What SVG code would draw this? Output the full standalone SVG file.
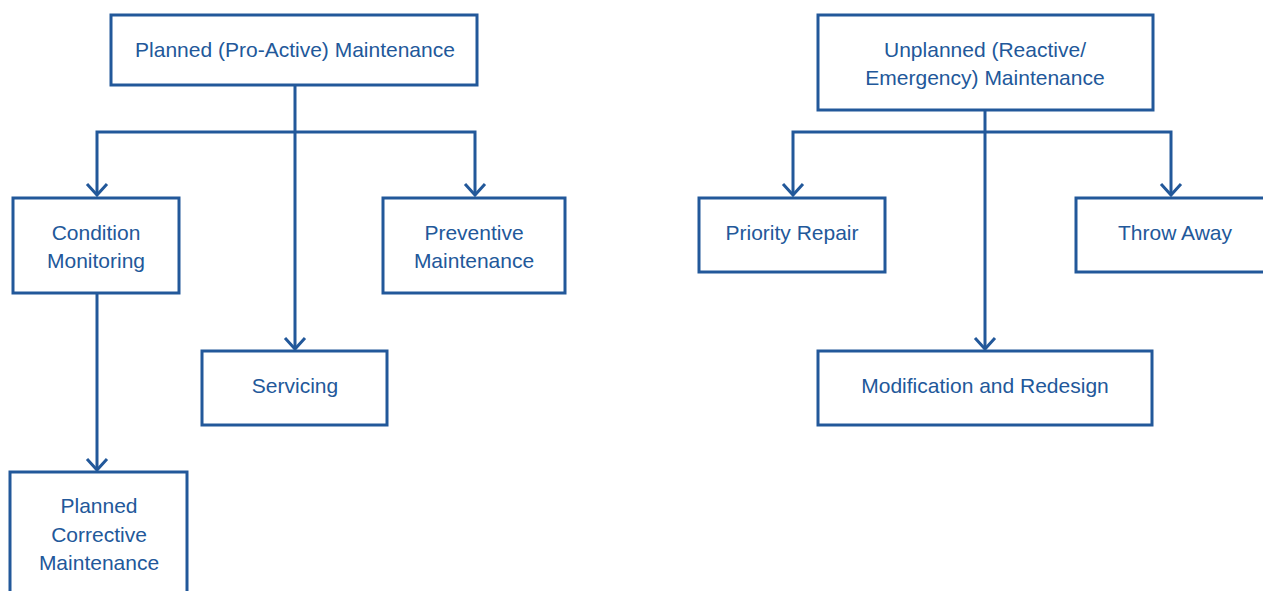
<svg xmlns="http://www.w3.org/2000/svg" width="1263" height="591" viewBox="0 0 1263 591">
<style>
.box{fill:#fff;stroke:#22589a;stroke-width:3}
.lbl{font-family:"Liberation Sans",Arial,sans-serif;font-size:21px;fill:#22589a;text-anchor:middle}
.con{fill:none;stroke:#22589a;stroke-width:3}
</style>
<defs>
<marker id="arr" viewBox="-15 -15 30 30" markerWidth="30" markerHeight="30" refX="0" refY="0" orient="auto" markerUnits="userSpaceOnUse" overflow="visible">
<path d="M-11,-10 L0,0 L-11,10" fill="none" stroke="#22589a" stroke-width="3"/>
</marker>
</defs>
<rect width="1263" height="591" fill="#fff"/>
<g id="connectors">
<path class="con" d="M295,85 V349" marker-end="url(#arr)"/>
<path class="con" d="M295,132 H97 V195" marker-end="url(#arr)"/>
<path class="con" d="M295,132 H475 V195" marker-end="url(#arr)"/>
<path class="con" d="M97,293 V470" marker-end="url(#arr)"/>
<path class="con" d="M985,110 V349" marker-end="url(#arr)"/>
<path class="con" d="M985,132 H793 V195" marker-end="url(#arr)"/>
<path class="con" d="M985,132 H1171 V195" marker-end="url(#arr)"/>
</g>
<g id="planned">
<rect class="box" x="111" y="15" width="366" height="70"/>
<text class="lbl" x="295" y="57">Planned (Pro-Active) Maintenance</text>
</g>
<g id="condition">
<rect class="box" x="13" y="198" width="166" height="95"/>
<text class="lbl" x="96" y="240">Condition</text>
<text class="lbl" x="96" y="268">Monitoring</text>
</g>
<g id="preventive">
<rect class="box" x="383" y="198" width="182" height="95"/>
<text class="lbl" x="474" y="240">Preventive</text>
<text class="lbl" x="474" y="268">Maintenance</text>
</g>
<g id="servicing">
<rect class="box" x="202" y="351" width="185" height="74"/>
<text class="lbl" x="295" y="393">Servicing</text>
</g>
<g id="corrective">
<rect class="box" x="10" y="472" width="177" height="135"/>
<text class="lbl" x="99" y="513">Planned</text>
<text class="lbl" x="99" y="542">Corrective</text>
<text class="lbl" x="99" y="570">Maintenance</text>
</g>
<g id="unplanned">
<rect class="box" x="818" y="15" width="335" height="95"/>
<text class="lbl" x="985" y="57">Unplanned (Reactive/</text>
<text class="lbl" x="985" y="85">Emergency) Maintenance</text>
</g>
<g id="priority">
<rect class="box" x="699" y="198" width="186" height="74"/>
<text class="lbl" x="792" y="240">Priority Repair</text>
</g>
<g id="throwaway">
<rect class="box" x="1076" y="198" width="198" height="74"/>
<text class="lbl" x="1175" y="240">Throw Away</text>
</g>
<g id="modification">
<rect class="box" x="818" y="351" width="334" height="74"/>
<text class="lbl" x="985" y="393">Modification and Redesign</text>
</g>
</svg>
